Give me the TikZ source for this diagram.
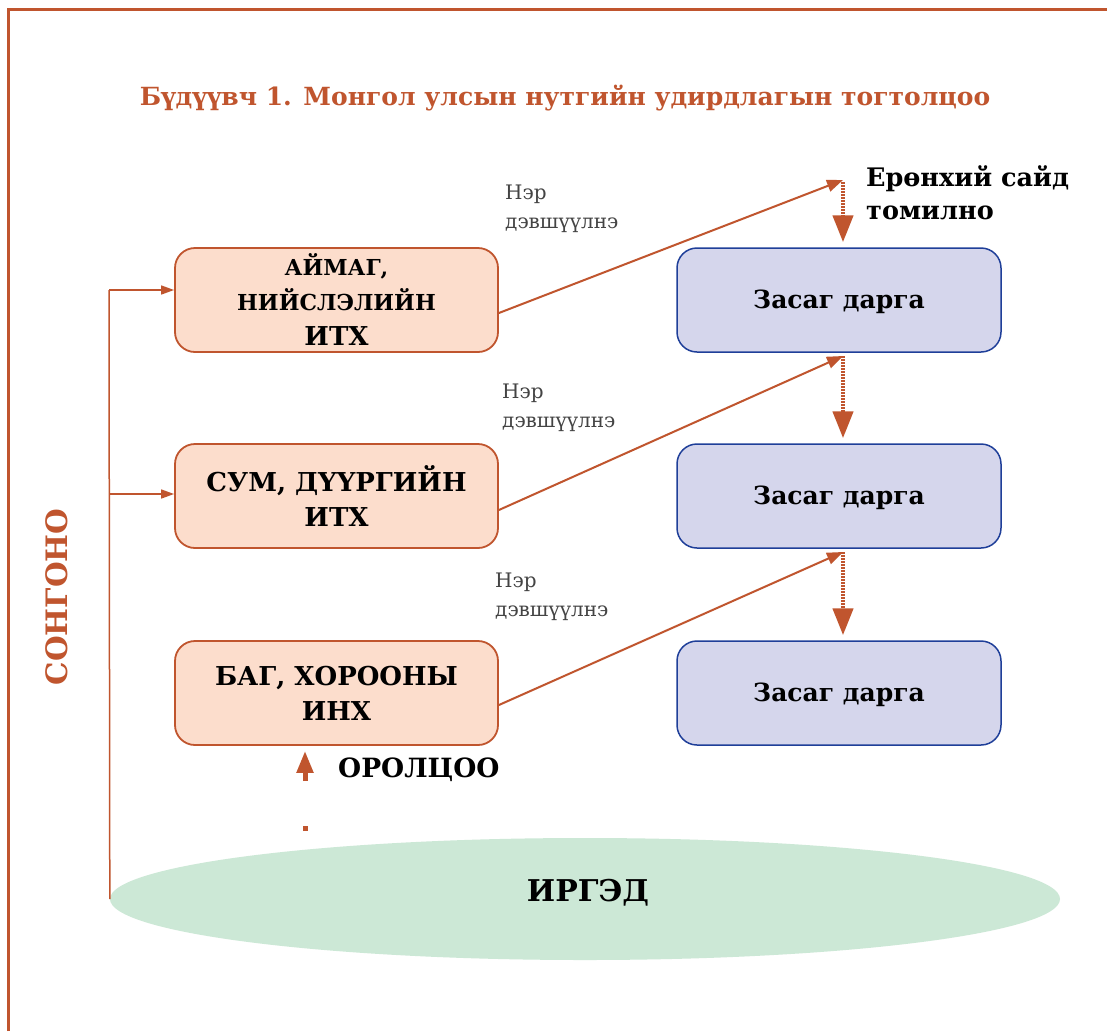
\documentclass[tikz,border=0pt]{standalone}
\usepackage{fontspec}
\setmainfont{DejaVu Serif}
\usetikzlibrary{arrows.meta,shapes.geometric}
\definecolor{rust}{HTML}{C0552E}
\definecolor{peach}{HTML}{FCDDCC}
\definecolor{lav}{HTML}{D5D6EC}
\definecolor{navy}{HTML}{1F3F99}
\definecolor{mint}{HTML}{CCE8D6}
\definecolor{txtgray}{HTML}{444444}
\begin{document}
\begin{tikzpicture}[x=1pt,y=-1pt,
  lbox/.style={draw=rust, line width=1.8pt, fill=peach, rounded corners=20pt,
    minimum width=323pt, minimum height=104pt, align=center, inner sep=0pt,
    font=\bfseries\fontsize{26}{35}\selectfont},
  rbox/.style={draw=navy, line width=1.5pt, fill=lav, rounded corners=20pt,
    minimum width=324pt, minimum height=104pt, inner sep=0pt,
    font=\bfseries\fontsize{25}{28}\selectfont},
  diag/.style={draw=rust, line width=2pt, -{Triangle[length=16pt,width=12pt]}},
  vdash/.style={draw=rust, line width=4.5pt, dash pattern=on 1.8pt off 1.2pt,
    -{Triangle[length=27pt,width=20pt]}},
  elarr/.style={draw=rust, line width=1.5pt, -{Triangle[length=13pt,width=9pt]}},
  nom/.style={font=\fontsize{20}{29}\selectfont, text=txtgray, align=left, anchor=north west, inner sep=0pt},
  blk/.style={font=\bfseries\fontsize{25.5}{33}\selectfont, align=left, inner sep=0pt}
]
\useasboundingbox (0,0) rectangle (1107,1031);
\fill[white] (0,0) rectangle (1107,1031);
% frame
\draw[rust, line width=3pt] (8,1031) -- (8,9) -- (1107,9);

% title
\node[font=\bfseries\fontsize{25}{30}\selectfont, text=rust] (title) at (565,98)
  {Бүдүүвч 1. Монгол улсын нутгийн удирдлагын тогтолцоо};

% left boxes
\node[lbox] (l1) at (336.5,300) {{\fontsize{22}{33}\selectfont АЙМАГ,}\\{\fontsize{22}{33}\selectfont НИЙСЛЭЛИЙН}\\ИТХ};
\node[lbox] (l2) at (336.5,496) {СУМ, ДҮҮРГИЙН\\ИТХ};
\node[lbox] (l3) at (336.5,693) {БАГ, ХОРООНЫ\\ИНХ};

% right boxes
\node[rbox, text depth=2pt] (r1) at (839,300) {Засаг дарга};
\node[rbox, text depth=2pt] (r2) at (839,496) {Засаг дарга};
\node[rbox, text depth=2pt] (r3) at (839,693) {Засаг дарга};

% PM
\node[blk, anchor=north west] (pm) at (866,165) {Ерөнхий сайд\\томилно};
\coordinate (pmc) at (843,180);

% citizens
\node[ellipse, fill=mint, minimum width=950pt, minimum height=122pt, inner sep=0pt,
  font=\bfseries\fontsize{30}{32}\selectfont] (ir) at (585,899) {};
\node[font=\bfseries\fontsize{30}{32}\selectfont] (irt) at (588,893) {ИРГЭД};

% nomination labels
\node[nom] (n1) at (505,185) {Нэр\\дэвшүүлнэ};
\node[nom] (n2) at (502,384) {Нэр\\дэвшүүлнэ};
\node[nom] (n3) at (495,573) {Нэр\\дэвшүүлнэ};

% diagonal arrows
\coordinate (e2) at (843,356);
\coordinate (e3) at (843,552);
\draw[diag] ([yshift=-13pt]l1.east) -- (pmc);
\draw[diag] ([yshift=-14pt]l2.east) -- (e2);
\draw[diag] ([yshift=-12pt]l3.east) -- (e3);

% dashed vertical arrows
\draw[vdash, shorten >=5pt] ([yshift=-2pt]pmc) -- (pmc |- r1.north);
\draw[vdash, shorten >=5pt] (e2) -- (e2 |- r2.north);
\draw[vdash, shorten >=5pt] (e3) -- (e3 |- r3.north);

% election lines
\coordinate (lt) at (109,290);
\draw[rust, line width=1.5pt] (ir.west) -- (lt);
\draw[elarr] (lt) -- ([yshift=10pt]l1.west);
\draw[elarr] (109,494) -- ([yshift=2pt]l2.west);

% СОНГОНО
\node[rotate=90, text=rust, font=\bfseries\fontsize{29.5}{34}\selectfont] (son) at (57,597) {СОНГОНО};

% participation
\node[blk, anchor=west, font=\bfseries\fontsize{26.5}{33}\selectfont] (or) at (338,770) {ОРОЛЦОО};
\coordinate (ob) at (305,831);
\draw[rust, line width=5pt, dash pattern=on 5pt off 45pt on 40pt,
  -{Triangle[length=22pt,width=16pt]}] (ob) -- ([yshift=-5pt]l3.south -| ob);
\end{tikzpicture}
\end{document}
